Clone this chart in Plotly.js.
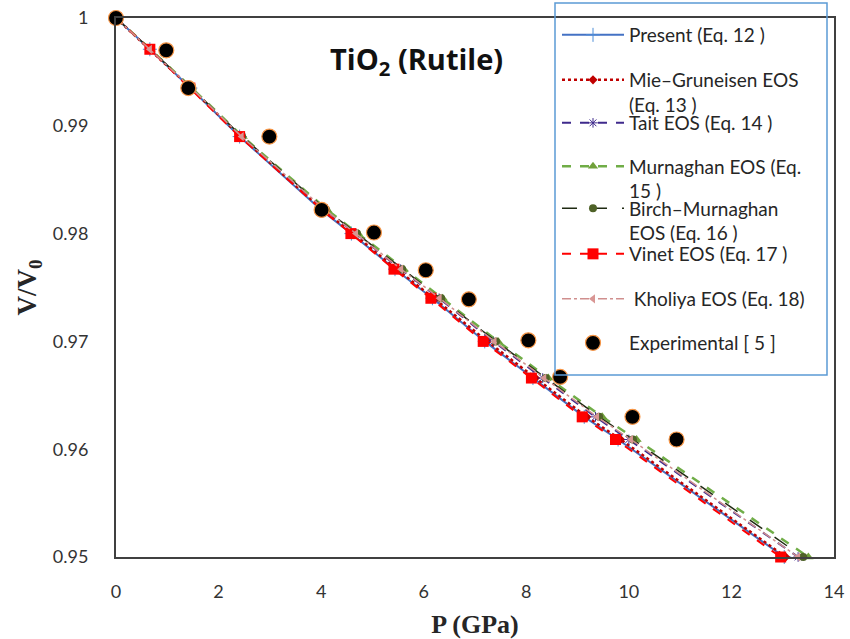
<!DOCTYPE html>
<html>
<head>
<meta charset="utf-8">
<script src="https://cdn.plot.ly/plotly-3.0.1.min.js"></script>
<style>html,body{margin:0;padding:0;background:#fff;}#chart{width:850px;height:639px;}</style>
</head>
<body>
<div id="chart"></div>
<script>
// V/V0 values at which the models were evaluated
const vTheory = [1, 0.9971, 0.9935, 0.9890, 0.9822, 0.9800, 0.9767, 0.9740, 0.9700, 0.9666, 0.9630, 0.9609, 0.9500];
// Pressures (GPa) for each model
const pPresent   = [0, 0.66, 1.45, 2.41, 4.00, 4.59, 5.44, 6.17, 7.19, 8.13, 9.13, 9.79, 13.03];
const pMie       = [0, 0.66, 1.46, 2.43, 4.03, 4.62, 5.47, 6.20, 7.24, 8.18, 9.18, 9.84, 13.06];
const pTait      = [0, 0.66, 1.47, 2.45, 4.08, 4.68, 5.55, 6.30, 7.36, 8.32, 9.35, 10.00, 13.30];
const pMurnaghan = [0, 0.67, 1.48, 2.47, 4.12, 4.72, 5.61, 6.37, 7.45, 8.43, 9.48, 10.15, 13.50];
const pBirch     = [0, 0.67, 1.47, 2.46, 4.10, 4.70, 5.58, 6.34, 7.41, 8.38, 9.42, 10.08, 13.40];
const pVinet     = [0, 0.66, 1.44, 2.41, 4.02, 4.58, 5.42, 6.14, 7.16, 8.10, 9.09, 9.74, 12.96];
const pKholiya   = [0, 0.66, 1.47, 2.45, 4.08, 4.68, 5.56, 6.31, 7.38, 8.35, 9.38, 10.04, 13.30];
// Experimental data
const pExp = [0, 0.98, 1.41, 2.99, 4.01, 5.03, 6.04, 6.88, 8.04, 8.66, 10.07, 10.93];
const vExp = [1, 0.9970, 0.9935, 0.9890, 0.9822, 0.9801, 0.9766, 0.9739, 0.9701, 0.9667, 0.9630, 0.9609];
// Labels
const names = [
  'Present (Eq. 12 )',
  'Mie–Gruneisen EOS<br>(Eq. 13 )',
  'Tait EOS (Eq. 14 )',
  'Murnaghan EOS (Eq.<br>15 )',
  'Birch–Murnaghan<br>EOS (Eq. 16 )',
  'Vinet EOS (Eq. 17 )',
  ' Kholiya EOS (Eq. 18)',
  'Experimental [ 5 ]'
];
const xTicks = [0, 2, 4, 6, 8, 10, 12, 14];
const yTicks = [0.95, 0.96, 0.97, 0.98, 0.99, 1];

const legendIds = ['legend', 'legend2', 'legend3', 'legend4', 'legend5', 'legend6', 'legend7', 'legend8'];

const traces = [
  {x: pPresent, y: vTheory, mode: 'lines+markers',
   line: {color: '#4472c4', width: 2, dash: 'solid'},
   marker: {symbol: 'cross-thin', size: 10, line: {color: '#4f8fd8', width: 1}}},
  {x: pMie, y: vTheory, mode: 'lines+markers',
   line: {color: '#c00000', width: 2.5, dash: 'dot'},
   marker: {symbol: 'diamond', size: 7, color: '#c00000'}},
  {x: pTait, y: vTheory, mode: 'lines+markers',
   line: {color: '#3f2a8c', width: 2, dash: 'dash'},
   marker: {symbol: 'asterisk-open', size: 8, line: {color: '#7030a0', width: 1}}},
  {x: pMurnaghan, y: vTheory, mode: 'lines+markers',
   line: {color: '#70ad47', width: 2.5, dash: 'dash'},
   marker: {symbol: 'triangle-up', size: 9, color: '#70a03a'}},
  {x: pBirch, y: vTheory, mode: 'lines+markers',
   line: {color: '#1f2a12', width: 1.5, dash: 'longdash'},
   marker: {symbol: 'circle', size: 8, color: '#4f6228'}},
  {x: pVinet, y: vTheory, mode: 'lines+markers',
   line: {color: '#ff0000', width: 2, dash: 'dash'},
   marker: {symbol: 'square', size: 11, color: '#ff0000'}},
  {x: pKholiya, y: vTheory, mode: 'lines+markers',
   line: {color: '#d08f8e', width: 1.5, dash: 'dashdot'},
   marker: {symbol: 'triangle-left', size: 8, color: '#d99694'}},
  {x: pExp, y: vExp, mode: 'markers',
   marker: {symbol: 'circle', size: 15, color: '#000000', line: {color: '#f79646', width: 1.2}}}
].map((t, i) => Object.assign({type: 'scatter', cliponaxis: false, name: names[i], legend: legendIds[i]}, t));

// centre of each legend entry, in pixels from the top of the figure
const legendCentres = [35, 92.5, 123, 179, 221, 254, 299, 343];
const plotTop = 18, plotBottom = 557, plotLeft = 116, plotRight = 834;
const toPaperY = py => (plotBottom - py) / (plotBottom - plotTop);
const toPaperX = px => (px - plotLeft) / (plotRight - plotLeft);

const legendFont = {family: 'Lato, "Open Sans", sans-serif', size: 19, color: '#262626'};

const layout = {
  width: 850, height: 639,
  margin: {l: plotLeft, r: 850 - plotRight, t: plotTop, b: 639 - plotBottom, autoexpand: false},
  paper_bgcolor: '#ffffff', plot_bgcolor: '#ffffff',
  font: {family: 'Lato, "Open Sans", sans-serif', color: '#333333'},
  showlegend: true,
  xaxis: {
    range: [0, 14], tickmode: 'array', tickvals: xTicks, ticktext: xTicks.map(String),
    showgrid: false, zeroline: false, showline: true, linecolor: '#404040', linewidth: 2,
    mirror: true, ticks: '', ticklabelstandoff: 17,
    tickfont: {family: 'Lato, "Open Sans", sans-serif', size: 18, color: '#333333'},
    title: {text: 'P (GPa)', standoff: 22,
      font: {family: '"Liberation Serif", "DejaVu Serif", serif', size: 26, color: '#262626', weight: 'bold'}}
  },
  yaxis: {
    range: [0.95, 1], tickmode: 'array', tickvals: yTicks, ticktext: yTicks.map(String),
    showgrid: false, zeroline: false, showline: true, linecolor: '#404040', linewidth: 2,
    mirror: true, ticks: '', ticklabelstandoff: 22,
    tickfont: {family: 'Lato, "Open Sans", sans-serif', size: 18, color: '#333333'},
    title: {text: 'V/V<sub>0</sub>', standoff: 8,
      font: {family: '"Liberation Serif", "DejaVu Serif", serif', size: 27, color: '#262626', weight: 'bold'}}
  },
  shapes: [{
    type: 'rect', xref: 'paper', yref: 'paper', layer: 'above',
    x0: toPaperX(555), x1: toPaperX(827), y0: toPaperY(375), y1: toPaperY(3),
    line: {color: '#5b9bd5', width: 1.5}, fillcolor: 'rgba(0,0,0,0)'
  }],
  annotations: [{
    xref: 'paper', yref: 'paper', x: toPaperX(416), y: toPaperY(60), xanchor: 'center', yanchor: 'middle',
    text: '<b>TiO<sub>2</sub> (Rutile)</b>', showarrow: false,
    font: {family: '"Open Sans", Lato, sans-serif', size: 29, color: '#111111'}
  }]
};

legendIds.forEach((id, i) => {
  layout[id] = {
    x: toPaperX(557), y: toPaperY(legendCentres[i]), xanchor: 'left', yanchor: 'middle',
    bgcolor: 'rgba(0,0,0,0)', borderwidth: 0,
    font: legendFont, itemwidth: 62, valign: 'top'
  };
});

Plotly.newPlot('chart', traces, layout, {displayModeBar: false, staticPlot: true});
</script>
</body>
</html>
